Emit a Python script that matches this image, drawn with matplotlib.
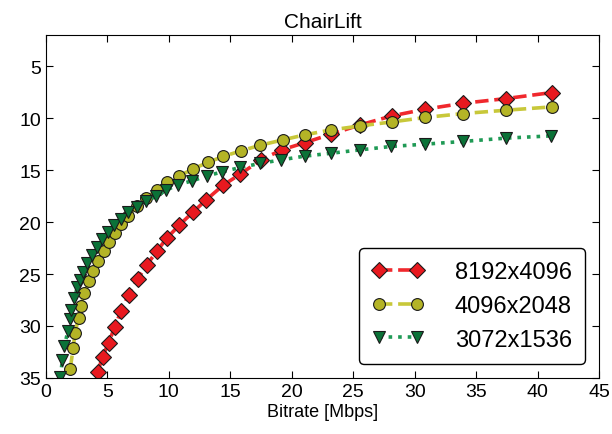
import matplotlib
matplotlib.use('Agg')
import matplotlib.pyplot as plt

plt.rcParams['font.family'] = ['Liberation Sans', 'DejaVu Sans']

# Bitrate (Mbps) / quality values
x_8k = [4.21, 4.61, 5.10, 5.61, 6.10, 6.73, 7.46, 8.22, 9.01, 9.82, 10.85, 11.94,
        13.02, 14.43, 15.81, 17.49, 19.18, 21.10, 23.19, 25.57, 28.13, 30.86,
        33.95, 37.43, 41.15]
y_8k = [34.45, 32.95, 31.63, 30.07, 28.59, 26.99, 25.48, 24.11, 22.82, 21.57, 20.29,
        19.07, 17.88, 16.44, 15.38, 14.01, 13.05, 12.34, 11.54, 10.64, 9.78, 9.13,
        8.56, 8.11, 7.53]

x_4k = [1.98, 2.22, 2.36, 2.66, 2.85, 3.12, 3.52, 3.85, 4.26, 4.69, 5.15, 5.61,
        6.10, 6.70, 7.38, 8.14, 9.01, 9.85, 10.85, 11.94, 13.16, 14.43, 15.87,
        17.44, 19.26, 21.10, 23.19, 25.57, 28.13, 30.86, 33.95, 37.43, 41.15]
y_4k = [34.13, 32.12, 30.70, 29.23, 28.05, 26.83, 25.64, 24.68, 23.72, 22.76, 21.95,
        21.06, 20.19, 19.39, 18.43, 17.69, 16.92, 16.18, 15.55, 14.90, 14.26, 13.68,
        13.14, 12.60, 12.09, 11.59, 11.13, 10.74, 10.36, 9.93, 9.55, 9.23, 8.91]

x_3k = [1.18, 1.34, 1.51, 1.79, 1.95, 2.07, 2.32, 2.56, 2.81, 3.05, 3.38, 3.78,
        4.19, 4.60, 5.09, 5.57, 6.10, 6.71, 7.40, 8.18, 8.99, 9.80, 10.78, 11.90,
        13.12, 14.36, 15.82, 17.40, 19.14, 21.06, 23.15, 25.53, 28.09, 30.82,
        33.91, 37.39, 41.11]
y_3k = [34.90, 33.27, 31.92, 30.48, 29.33, 28.46, 27.31, 26.25, 25.58, 24.81, 23.94,
        23.17, 22.40, 21.63, 20.96, 20.29, 19.66, 19.04, 18.51, 17.98, 17.50, 16.92,
        16.39, 16.03, 15.55, 15.16, 14.74, 14.36, 14.01, 13.65, 13.38, 13.05, 12.72,
        12.50, 12.24, 11.92, 11.70]

labels = ['8192x4096', '4096x2048', '3072x1536']

fig = plt.figure(figsize=(6.12, 4.35), dpi=100)
ax = fig.add_axes([0.075, 0.129, 0.904, 0.788])

ax.plot(x_8k, y_8k, linestyle='--', color='#f0282d', lw=2.6, marker='D', ms=8,
        markerfacecolor='#e8191f', markeredgecolor='#1a1a1a', markeredgewidth=0.8,
        label=labels[0])
ax.plot(x_4k, y_4k, linestyle='--', color='#c8c83a', lw=2.6, marker='o', ms=8.5,
        markerfacecolor='#b4b426', markeredgecolor='#1a1a1a', markeredgewidth=0.8,
        label=labels[1])
ax.plot(x_3k, y_3k, linestyle=':', color='#1f9a55', lw=2.6, marker='v', ms=9,
        markerfacecolor='#0b7238', markeredgecolor='#1a1a1a', markeredgewidth=0.8,
        label=labels[2])

ax.set_xlim(0, 45)
ax.set_ylim(35, 2)
ax.set_xticks(range(0, 46, 5))
ax.set_yticks(range(5, 36, 5))
ax.tick_params(direction='in', top=True, right=True, length=5, labelsize=14)
ax.set_xlabel('Bitrate [Mbps]', fontsize=13, labelpad=2)
ax.set_title('ChairLift', fontsize=15, pad=6)

leg = ax.legend(loc='lower right', numpoints=2, fontsize=17, handlelength=2.2,
                handletextpad=1.3, borderpad=0.55, labelspacing=0.5, fancybox=True,
                framealpha=1, borderaxespad=0.6)
leg.get_frame().set_edgecolor('black')

fig.savefig('out.png', dpi=100)
